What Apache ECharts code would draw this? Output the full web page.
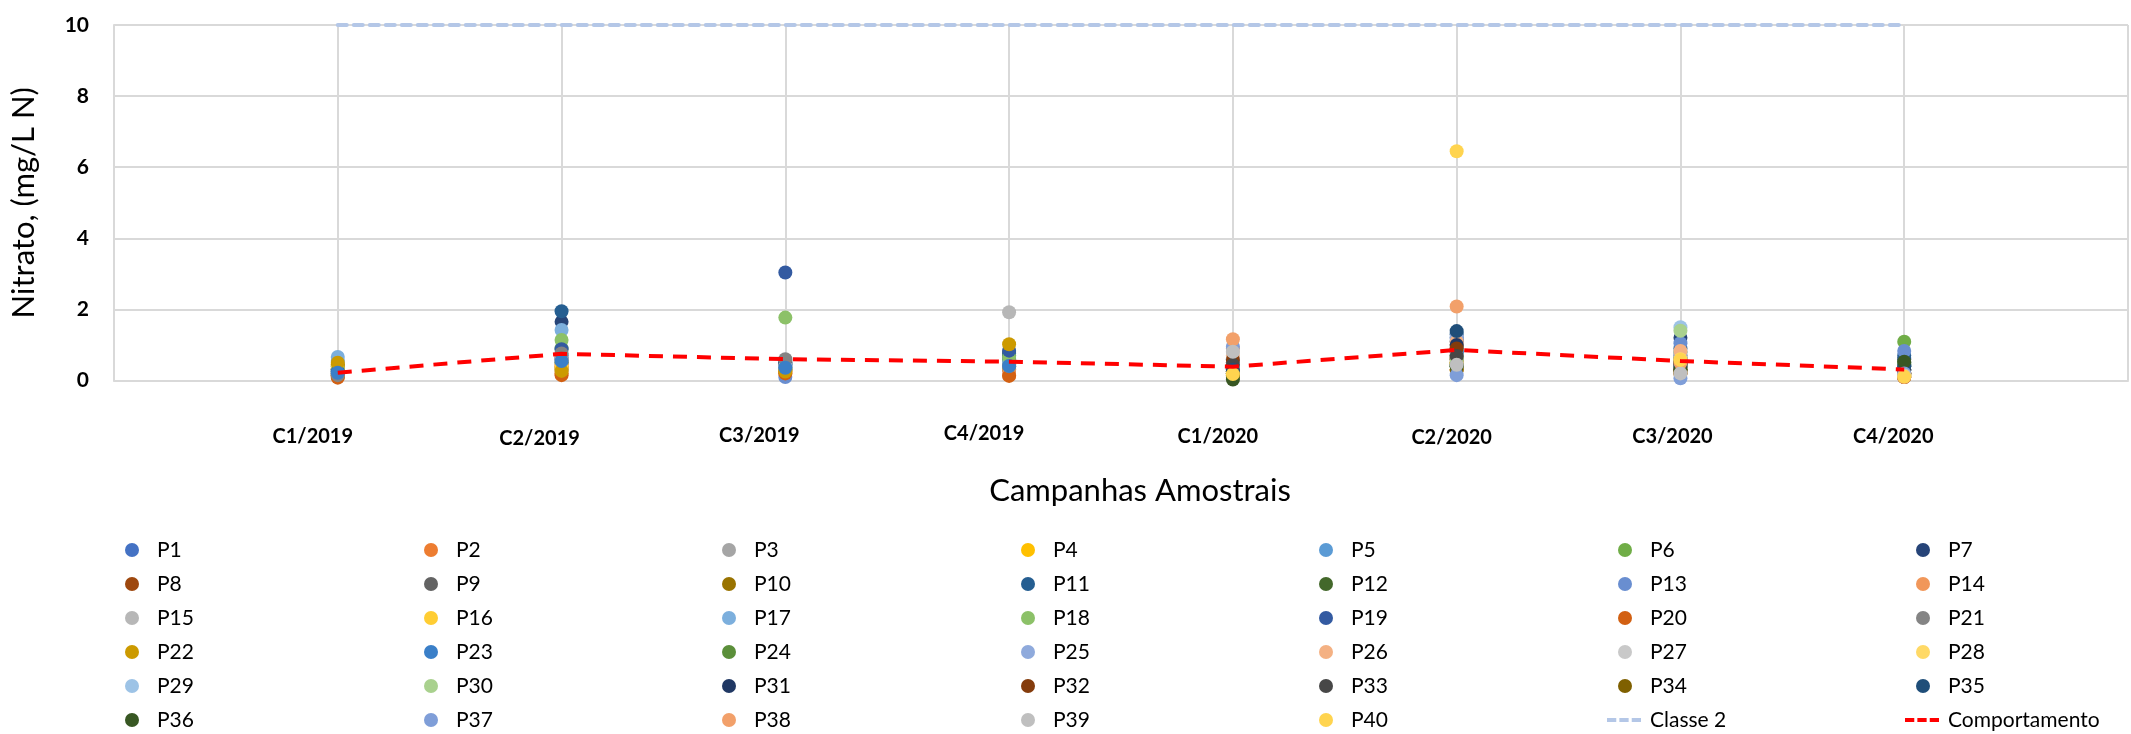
<!DOCTYPE html>
<html>
<head>
<meta charset="utf-8">
<script src="https://cdn.jsdelivr.net/npm/echarts@6/dist/echarts.min.js"></script>
<style>
  html, body { margin: 0; padding: 0; background: #ffffff; }
  #chart { width: 2131px; height: 734px; }
</style>
</head>
<body>
<div id="chart"></div>
<script>
// ---------------- DATA ----------------
const categories = ['C1/2019', 'C2/2019', 'C3/2019', 'C4/2019', 'C1/2020', 'C2/2020', 'C3/2020', 'C4/2020'];
const yTicks = [0, 2, 4, 6, 8, 10];
const pointNames = ['P1','P2','P3','P4','P5','P6','P7','P8','P9','P10',
  'P11','P12','P13','P14','P15','P16','P17','P18','P19','P20',
  'P21','P22','P23','P24','P25','P26','P27','P28','P29','P30',
  'P31','P32','P33','P34','P35','P36','P37','P38','P39','P40'];

// Nitrate values per sampling campaign, indexed P1..P40 (null = not sampled)
const c1_2019 = [0.30,0.12,0.20,0.45,0.55,0.25,0.30,0.33,0.20,0.40,
  0.25,0.15,0.30,0.12,0.20,0.35,0.66,0.30,0.25,0.08,
  0.15,0.50,0.22,null,null,null,null,null,null,null,
  null,null,null,null,null,null,null,null,null,null];
const c2_2019 = [0.60,0.20,0.50,0.40,0.70,0.90,1.65,0.35,0.60,0.30,
  1.95,0.50,0.70,0.40,0.60,0.35,1.42,1.14,0.88,0.15,
  0.76,0.27,0.55,null,null,null,null,null,null,null,
  null,null,null,null,null,null,null,null,null,null];
const c3_2019 = [0.40,0.20,0.50,0.30,0.45,0.35,0.50,0.30,0.55,0.35,
  0.45,0.30,0.10,0.25,0.40,0.30,0.35,1.77,3.04,0.20,
  0.60,0.25,0.36,null,null,null,null,null,null,null,
  null,null,null,null,null,null,null,null,null,null];
const c4_2019 = [0.50,0.15,0.60,0.45,0.60,0.55,0.70,0.30,0.40,0.80,
  0.75,0.35,0.45,0.30,1.92,0.40,0.50,0.67,0.84,0.13,
  0.40,1.02,0.41,null,null,null,null,null,null,null,
  null,null,null,null,null,null,null,null,null,null];
const c1_2020 = [0.30,0.50,0.40,0.20,0.60,0.35,0.25,0.45,0.30,0.15,
  0.50,0.20,0.40,0.90,0.30,0.25,0.60,0.45,0.35,0.20,
  0.30,0.25,0.40,0.20,0.50,0.70,0.80,0.30,0.40,0.35,
  0.25,0.58,0.44,0.10,0.30,0.03,0.95,1.16,0.81,0.18];
const c2_2020 = [0.80,0.60,1.00,0.50,0.70,0.90,1.10,0.60,0.40,0.70,
  1.30,0.50,0.80,1.00,0.60,0.50,0.90,0.70,1.20,0.30,
  0.60,0.50,0.80,0.40,1.23,1.09,0.50,0.30,0.70,0.60,
  1.00,0.90,0.69,0.30,1.39,0.40,0.15,2.08,0.44,6.45];
const c3_2020 = [0.60,0.30,0.50,0.40,0.70,0.80,1.20,0.40,0.50,0.30,
  0.90,0.40,1.05,0.70,0.30,0.60,0.80,0.60,0.50,0.20,
  0.40,0.50,0.60,0.30,0.70,0.83,0.40,0.60,1.50,1.40,
  0.50,0.30,0.45,0.20,0.38,0.30,0.06,0.50,0.20,0.58];
const c4_2020 = [0.30,0.20,0.40,0.15,0.50,1.09,0.60,0.20,0.30,0.10,
  0.70,0.40,0.83,0.30,0.20,0.10,0.40,0.50,0.30,0.10,
  0.20,0.15,0.30,0.50,0.40,0.20,0.10,0.15,0.30,0.45,
  0.20,0.10,0.30,0.20,0.40,0.53,0.20,0.10,0.15,0.11];
const campaigns = [c1_2019, c2_2019, c3_2019, c4_2019, c1_2020, c2_2020, c3_2020, c4_2020];

const classe2 = [10, 10, 10, 10, 10, 10, 10, 10];
const comportamento = [0.22, 0.75, 0.60, 0.53, 0.39, 0.86, 0.55, 0.31];

// ---------------- STYLE ----------------
const pointColors = ['#4472C4','#ED7D31','#A5A5A5','#FFC000','#5B9BD5','#70AD47','#264478','#9E480E','#636363','#997300',
  '#255E91','#43682B','#698ED0','#F1975A','#B7B7B7','#FFCD33','#7CAFDD','#8CC168','#335AA1','#D26012',
  '#848484','#CC9A00','#3A7FC8','#5B8F3A','#8FAADC','#F4B183','#C9C9C9','#FFD966','#9DC3E6','#A9D18E',
  '#203864','#843C0C','#474747','#7F6000','#1F4E79','#385723','#7F9ED8','#F2A06A','#BFBFBF','#FFD44F'];
const FONT = 'Lato, "Open Sans", "Noto Sans", sans-serif';
const labelDx = [-25, -22, -26, -25, -15, -5, -8, -11];
const labelDy = [7, 11, 4, 0, 7, 9, 7, 7];
const DASH_ICON = 'path://M0,0h9v4h-9z M12,0h9v4h-9z M24,0h9v4h-9z';

const richStyles = {};
categories.forEach((c, i) => {
  const dx = labelDx[i];
  richStyles['n' + i] = {
    fontFamily: FONT, fontWeight: 'bold', fontSize: 20, color: '#000',
    lineHeight: 24,
    padding: [labelDy[i], dx < 0 ? -2 * dx : 0, 0, dx > 0 ? 2 * dx : 0]
  };
});

// ---------------- SERIES ----------------
const series = [];
pointNames.forEach((name, i) => {
  const data = [];
  campaigns.forEach((arr, c) => {
    if (arr[i] !== null && arr[i] !== undefined) data.push([c + 1, arr[i]]);
  });
  series.push({
    name: name, type: 'scatter', data: data,
    symbol: 'circle', symbolSize: 14,
    itemStyle: { color: pointColors[i], opacity: 1 },
    emphasis: { disabled: true }
  });
});
series.push({
  name: 'Classe 2', type: 'line',
  data: classe2.map((v, c) => [c + 1, v]),
  symbol: 'none',
  lineStyle: { color: '#B4C7E7', width: 4, type: [9, 7], cap: 'round' },
  itemStyle: { color: '#B4C7E7' },
  z: 3
});
series.push({
  name: 'Comportamento', type: 'line',
  data: comportamento.map((v, c) => [c + 1, v]),
  symbol: 'none',
  lineStyle: { color: '#FF0000', width: 4, type: [14, 10] },
  itemStyle: { color: '#FF0000' },
  z: 4
});

// legend columns (7 columns x 6 rows, filled row by row)
const legendNames = pointNames.concat(['Classe 2', 'Comportamento']);
const colCenters = [131, 430, 728, 1027, 1325, 1624, 1922];
const ROW_TOP = 539, ROW_STEP = 34;
const legends = [];
colCenters.forEach((cx, k) => {
  const pts = [], lines = [];
  for (let r = 0; r < 6; r++) {
    const n = legendNames[r * 7 + k];
    if (n.charAt(0) === 'P') pts.push(n); else lines.push({ name: n, row: r });
  }
  legends.push({
    orient: 'vertical',
    left: cx + 1 - 7, top: ROW_TOP, padding: 0,
    itemWidth: 14, itemHeight: 14, itemGap: ROW_STEP - 22,
    selectedMode: false, icon: 'circle',
    textStyle: { fontFamily: FONT, fontSize: 21, color: '#000', lineHeight: 22, padding: [0, 0, 0, 13] },
    data: pts
  });
  lines.forEach(l => {
    legends.push({
      orient: 'vertical',
      left: cx - 17, top: ROW_TOP + l.row * ROW_STEP, padding: 0,
      itemWidth: 34, itemHeight: 14,
      selectedMode: false,
      textStyle: { fontFamily: FONT, fontSize: 21, color: '#000', lineHeight: 22, padding: [0, 0, 0, 4] },
      data: [{ name: l.name, icon: DASH_ICON }]
    });
  });
});

const option = {
  animation: false,
  backgroundColor: '#ffffff',
  grid: { left: 108, right: 0, top: 25, bottom: 353.5, containLabel: false },
  legend: legends,
  xAxis: {
    type: 'value', min: 0, max: 9, interval: 1,
    axisLine: { show: true, lineStyle: { color: '#D9D9D9', width: 2 } },
    axisTick: { show: false },
    splitLine: { show: true, lineStyle: { color: '#D9D9D9', width: 2 } },
    axisLabel: {
      margin: 41,
      formatter: function (v) {
        const i = Math.round(v) - 1;
        return (i >= 0 && i < categories.length) ? '{n' + i + '|' + categories[i] + '}' : '';
      },
      rich: richStyles
    }
  },
  yAxis: {
    type: 'value', min: yTicks[0], max: yTicks[yTicks.length - 1], interval: 2,
    name: 'Nitrato, (mg/L N)', nameLocation: 'middle', nameGap: 75, nameRotate: 90,
    nameTextStyle: { fontFamily: FONT, fontSize: 31, color: '#000' },
    axisLine: { show: true, lineStyle: { color: '#D9D9D9', width: 2 } },
    axisTick: { show: false },
    splitLine: { show: true, lineStyle: { color: '#D9D9D9', width: 2 } },
    axisLabel: { margin: 25, fontFamily: FONT, fontWeight: 'bold', fontSize: 21, color: '#000' }
  },
  graphic: [{
    type: 'text', x: 1140, y: 491,
    style: { text: 'Campanhas Amostrais', fontFamily: FONT, fontSize: 31, fill: '#000',
      textAlign: 'center', textVerticalAlign: 'middle' }
  }],
  series: series
};

const chart = echarts.init(document.getElementById('chart'), null, { renderer: 'canvas' });
chart.setOption(option);
</script>
</body>
</html>
